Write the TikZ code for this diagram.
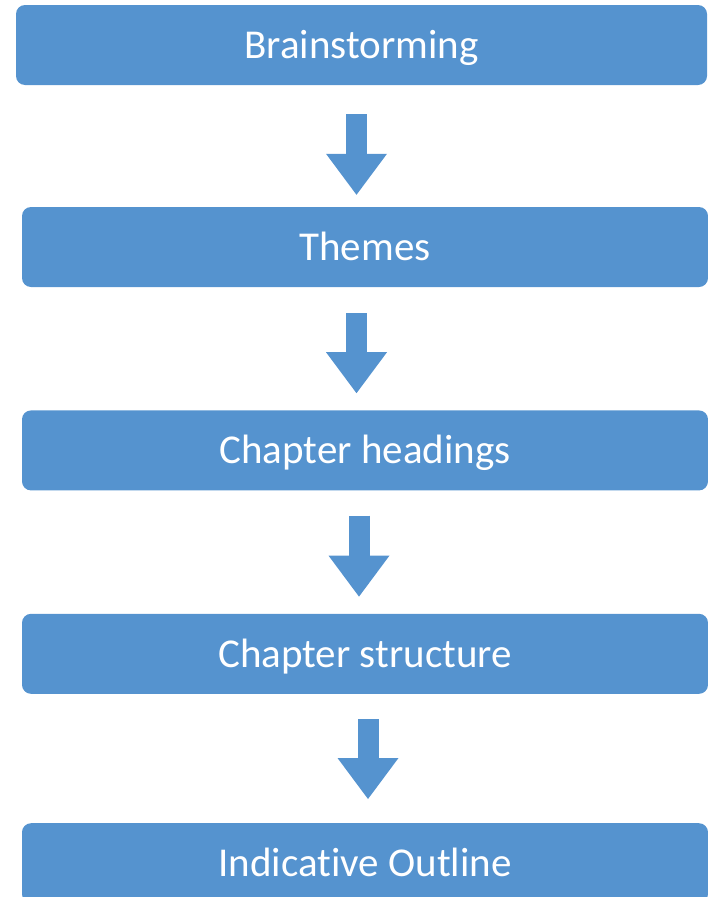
\documentclass[tikz,border=0pt]{standalone}
\usepackage{fontspec}
\setmainfont{Carlito}[Ligatures=NoCommon]
\usepackage{xcolor}
\usepackage{tikz}
\usetikzlibrary{positioning,arrows.meta}
\definecolor{boxblue}{HTML}{5593CF}

\begin{document}
\begin{tikzpicture}[x=1pt,y=-1pt,
  stage/.style={fill=boxblue, rounded corners=9pt, text=white,
    font=\fontsize{41}{49}\selectfont, minimum height=80pt,
    text height=26.4pt, text depth=0pt, inner sep=0pt},
  flowarrow/.style={boxblue, line width=21pt,
    -{Triangle[width=61pt,length=41pt,line width=0pt]}}]
\useasboundingbox (0,0) rectangle (708,897);
\node[stage, minimum width=691pt] (brain) at (361.5,45) {Brainstorming};
\node[stage, minimum width=686pt] (themes) at (365,247) {Themes};
  \node[stage, minimum width=686pt, below=123pt of themes] (heads) {Chapter headings};
  \node[stage, minimum width=686pt, below=123pt of heads] (struct) {Chapter structure};
  \node[stage, minimum width=686pt, below=129pt of struct] (outline) {Indicative Outline};
% block arrows between the stages
\draw[flowarrow] ([xshift=-5pt,yshift=-29pt]brain.south) -- ([xshift=-8.5pt,yshift=12pt]themes.north);
\draw[flowarrow] ([xshift=-8.5pt,yshift=-26pt]themes.south) -- ([xshift=-8.5pt,yshift=17pt]heads.north);
\draw[flowarrow] ([xshift=-6pt,yshift=-25pt]heads.south) -- ([xshift=-6pt,yshift=17pt]struct.north);
\draw[flowarrow] ([xshift=3pt,yshift=-25pt]struct.south) -- ([xshift=3pt,yshift=24pt]outline.north);
\end{tikzpicture}
\end{document}
